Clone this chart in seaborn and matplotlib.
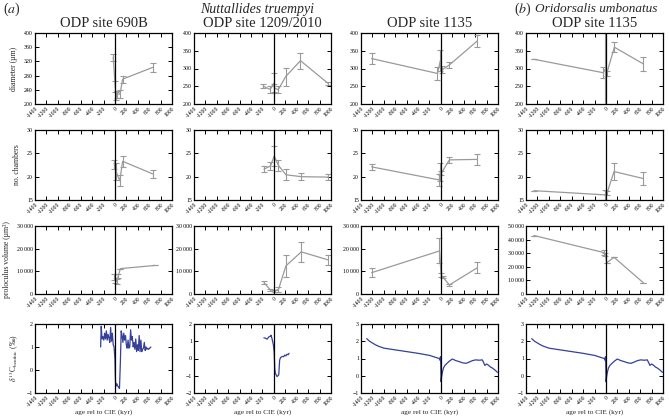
import numpy as np
import matplotlib
matplotlib.use("Agg")
import matplotlib.pyplot as plt
from matplotlib.ticker import FuncFormatter
import seaborn as sns

# ---- data (age rel. to CIE in kyr) ----
# ODP 690B, N. truempyi
age_690_diam = [-30, 5, 20, 40, 90, 135, 660]
diam_690 = [332, 250, 222, 228, 228, 270, 303]
diam_690_err = [10, 15, 12, 10, 12, 10, 12]
age_690_cham = [-10, 20, 85, 135, 660]
cham_690 = [22.6, 21.1, 19.1, 23.3, 20.6]
cham_690_err = [1.0, 1.8, 1.2, 1.2, 0.9]
age_690_vol = [-10, 10, 30, 60, 95, 700]
vol_690 = [7500, 7000, 5500, 8000, 11200, 12600]
vol_690_err = [1500, 2000, 1000, 1000, 0, 0]

# ODP 1209/1210, N. truempyi
age_1209_diam = [-185, -65, -5, 10, 75, 205, 465, 950]
diam_1209 = [250, 241, 258, 245, 240, 277, 322, 258]
diam_1209_err = [5, 10, 28, 12, 10, 25, 22, 5]
age_1209_cham = [-175, -60, 5, 80, 210, 480, 955]
cham_1209 = [21.6, 22.3, 24.4, 22.4, 20.4, 20.0, 19.9]
cham_1209_err = [0.7, 0.9, 2.2, 1.2, 1.2, 0.8, 0.6]
age_1209_vol = [-175, -60, 20, 80, 210, 480, 955]
vol_1209 = [5000, 1800, 1500, 2000, 12400, 18600, 15000]
vol_1209_err = [800, 400, 400, 1000, 5000, 4400, 2000]

# ODP 1135, N. truempyi
age_1135n_diam = [-1215, -60, -10, 20, 148, 640]
diam_1135n = [328, 286, 322, 296, 310, 378]
diam_1135n_err = [15, 18, 30, 10, 8, 17]
age_1135n_cham = [-1215, -30, -10, 10, 148, 640]
cham_1135n = [22.1, 19.3, 21.0, 20.8, 23.6, 23.7]
cham_1135n_err = [0.7, 1.2, 2.0, 0.5, 0.6, 1.2]
age_1135n_vol = [-1215, -25, 3, 30, 148, 640]
vol_1135n = [9400, 19000, 8400, 7600, 4000, 11600]
vol_1135n_err = [2000, 5500, 1000, 500, 500, 2300]

# ODP 1135, O. umbonatus
age_1135o_diam = [-1260, -45, -8, 14, 148, 655]
diam_1135o = [326, 288, 300, 286, 360, 313]
diam_1135o_err = [0, 16, 150, 8, 14, 19]
age_1135o_cham = [-1260, -15, 20, 142, 655]
cham_1135o = [17.0, 16.1, 16.5, 21.1, 19.6]
cham_1135o_err = [0, 1.1, 0.4, 1.8, 1.3]
age_1135o_vol = [-1260, -30, -10, 14, 142, 655]
vol_1135o = [43000, 30400, 29000, 23000, 27000, 8300]
vol_1135o_err = [0, 1700, 1000, 0, 0, 0]

# benthic d13C records
age_690_d13c = [-250, -240, -225, -210, -195, -180, -165, -150, -135, -120, -105,
                -90, -75, -60, -45, -30, -15, 0, 10, 20, 35, 50, 65, 80, 95, 110,
                125, 140, 155, 170, 185, 200, 215, 230, 245, 260, 275, 290, 305,
                320, 335, 350, 365, 380, 395, 410, 425, 440, 455, 470, 485, 500,
                515, 530, 545, 560, 575, 590, 610, 630]
d13c_690 = [1.0, 1.9, 1.35, 1.45, 1.3, 1.6, 1.35, 1.7, 1.3, 1.55, 1.4,
            1.2, 1.85, 1.25, 1.6, 1.1, 1.0, 0.5, -0.5, -0.7, -0.6, -0.7, -0.75,
            -0.8, 0.3, 1.7, 1.5, 1.2, 1.6, 1.3, 1.5, 1.1, 0.95, 1.3, 0.95, 1.0,
            1.75, 1.3, 1.45, 1.0, 1.2, 0.9, 1.35, 0.8, 1.1, 0.85, 1.5, 0.8, 1.3,
            0.8, 0.9, 0.95, 1.2, 0.85, 1.0, 0.9, 0.95, 0.9, 0.95, 1.0]
age_1209_d13c = [-176, -150, -120, -90, -60, -50, -30, -10, 5, 15, 25, 40, 55,
                 70, 85, 100, 115, 135, 150, 170, 190, 210, 230, 250, 265]
d13c_1209 = [1.2, 1.18, 1.12, 1.25, 1.3, 1.35, 1.1, 0.8, 0.35, -0.6, -0.85,
             -0.95, -1.05, -1.0, -0.95, -0.1, 0.05, 0.1, 0.12, 0.1, 0.2, 0.15,
             0.25, 0.22, 0.3]
age_1135_d13c = [-1300, -1250, -1200, -1150, -1100, -1050, -1000, -800, -600,
                 -400, -200, -30, -15, -8, -3, 3, 10, 25, 45, 70, 100, 150, 200,
                 260, 320, 380, 440, 500, 555, 610, 670, 725, 750, 770, 800, 830,
                 870, 900, 940, 990]
d13c_1135 = [2.15, 2.0, 1.9, 1.8, 1.72, 1.66, 1.6, 1.5, 1.4, 1.3, 1.18, 1.0,
             0.9, 1.1, 0.7, -0.35, -0.1, 0.2, 0.45, 0.6, 0.7, 0.85, 0.97, 0.88,
             0.82, 0.75, 0.72, 0.8, 0.88, 0.92, 0.9, 0.92, 0.75, 0.6, 0.68, 0.62,
             0.5, 0.45, 0.35, 0.2]

site_titles = ["ODP site 690B", "ODP site 1209/2010", "ODP site 1135", "ODP site 1135"]
row_labels = ["diameter (µm)", "no. chambers", "proloculus volume (µm³)",
              r"$\delta^{13}$C$_{\rm benthic}$ (‰)"]
age_ticks = list(range(-1400, 1001, 200))

# ---- styling ----
sns.set_theme(style="ticks")
plt.rcParams["font.family"] = ["Liberation Serif", "DejaVu Serif"]
plt.rcParams["mathtext.fontset"] = "stix"
plt.rcParams["axes.linewidth"] = 0.9

grey = "#9a9a9a"
blue = "#34409a"

W, H = 669, 417
fig = plt.figure(figsize=(W / 100, H / 100), dpi=100)

col_left = [35, 194, 361, 526]
col_w = 137
rows_px = [(33, 104), (130, 200), (226, 294), (324, 393)]

axes = []
for r, (top, bot) in enumerate(rows_px):
    row = []
    for c, lft in enumerate(col_left):
        ax = fig.add_axes([lft / W, 1 - bot / H, col_w / W, (bot - top) / H])
        row.append(ax)
    axes.append(row)

morph = [
    [(age_690_diam, diam_690, diam_690_err), (age_1209_diam, diam_1209, diam_1209_err),
     (age_1135n_diam, diam_1135n, diam_1135n_err), (age_1135o_diam, diam_1135o, diam_1135o_err)],
    [(age_690_cham, cham_690, cham_690_err), (age_1209_cham, cham_1209, cham_1209_err),
     (age_1135n_cham, cham_1135n, cham_1135n_err), (age_1135o_cham, cham_1135o, cham_1135o_err)],
    [(age_690_vol, vol_690, vol_690_err), (age_1209_vol, vol_1209, vol_1209_err),
     (age_1135n_vol, vol_1135n, vol_1135n_err), (age_1135o_vol, vol_1135o, vol_1135o_err)],
]
isotopes = [(age_690_d13c, d13c_690), (age_1209_d13c, d13c_1209),
            (age_1135_d13c, d13c_1135), (age_1135_d13c, d13c_1135)]

ylims = [
    [(200, 400, 40), (200, 400, 50), (200, 400, 50), (200, 400, 50)],
    [(15, 30, 5)] * 4,
    [(0, 30000, 10000), (0, 30000, 10000), (0, 30000, 10000), (0, 50000, 10000)],
    [(-1, 2, 1), (-2, 2, 1), (-1, 3, 1), (-1, 3, 1)],
]

thou = FuncFormatter(lambda v, p: f"{int(v):,}".replace(",", "\u2009") if v else "0")

for r in range(4):
    for c in range(4):
        ax = axes[r][c]
        if r < 3:
            x, y, e = morph[r][c]
            ax.errorbar(x, y, yerr=e, fmt="none", ecolor=grey, elinewidth=0.8,
                        capsize=2, capthick=0.8, zorder=2)
            sns.lineplot(x=x, y=y, sort=False, ax=ax, color=grey, lw=0.9,
                         estimator=None, zorder=3)
        else:
            x, y = isotopes[c]
            sns.lineplot(x=x, y=y, sort=False, ax=ax, color=blue, lw=0.9,
                         estimator=None, zorder=3)
        ax.axvline(0, color="black", lw=0.9, zorder=4)
        lo, hi, st = ylims[r][c]
        ax.set_ylim(lo, hi)
        ax.set_yticks(np.arange(lo, hi + st / 2, st))
        if r == 2:
            ax.yaxis.set_major_formatter(thou)
        ax.set_xlim(-1400, 1000)
        ax.set_xticks(age_ticks)
        ax.set_xticklabels([str(t) for t in age_ticks], rotation=45, ha="right",
                           rotation_mode="anchor")
        ax.tick_params(direction="in", top=True, right=True, length=3, width=0.7,
                       labelsize=4.2, pad=1.5, colors="black")
        ax.tick_params(axis="x", pad=1.5, labelsize=4.1)
        for s in ax.spines.values():
            s.set_color("black")
        ax.set_xlabel("")
        ax.set_ylabel("")
        if c == 0:
            ax.set_ylabel(row_labels[r], fontsize=5.5, labelpad=4)
        if r == 3:
            ax.set_xlabel("age rel to CIE (kyr)", fontsize=5.2, labelpad=1)
        if r == 0:
            ax.set_title(site_titles[c], fontsize=10.5, pad=4)

fig.text(3 / W, 1 - 9 / H, r"($\mathit{a}$)", fontsize=10, va="center", ha="left")
fig.text(257 / W, 1 - 9 / H, "Nuttallides truempyi", fontsize=10, style="italic",
         va="center", ha="center")
fig.text(514 / W, 1 - 9 / H, r"($\mathit{b}$)", fontsize=10, va="center", ha="left")
fig.text(596 / W, 1 - 9 / H, "Oridorsalis umbonatus", fontsize=9.5, style="italic",
         va="center", ha="center")

fig.savefig("out.png", dpi=100)
